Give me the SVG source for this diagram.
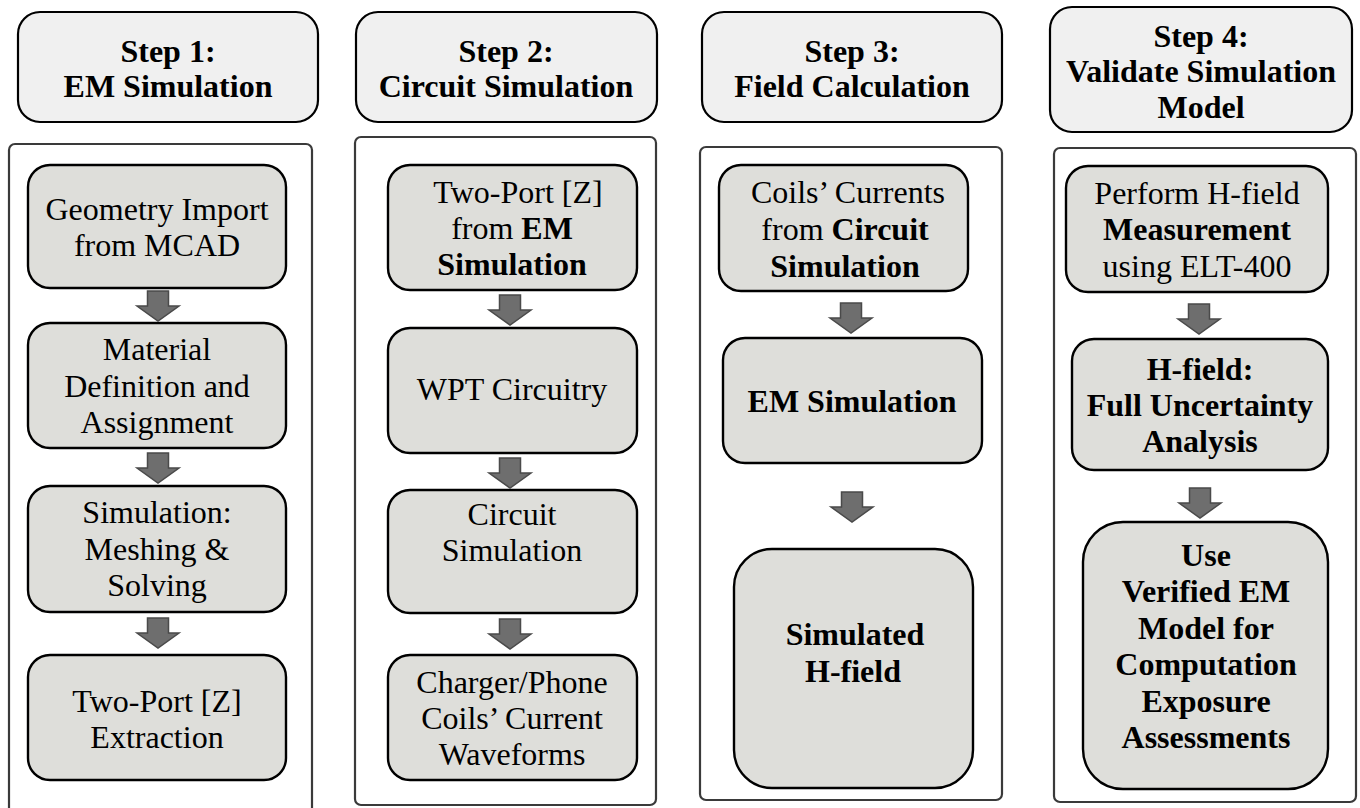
<svg xmlns="http://www.w3.org/2000/svg" width="1360" height="808" viewBox="0 0 1360 808">
<defs>
<style>
text{font-family:Liberation Serif,DejaVu Serif,serif;font-size:32px;fill:#000;text-anchor:middle}
.b{font-weight:bold}
.hdr{fill:#f0f0f0;stroke:#000;stroke-width:2.2}
.pnl{fill:#fff;stroke:#3a3a3a;stroke-width:2.2}
.nd{fill:#dededa;stroke:#000;stroke-width:2.4}
.ar{fill:#6e6e6e;stroke:#4a4a4a;stroke-width:1.5;stroke-linejoin:miter}
</style>
</defs>
<rect width="1360" height="808" fill="#fff"/>

<g id="panels">
<rect class="pnl" x="9" y="144" width="303" height="680" rx="6"/>
<rect class="pnl" x="355" y="137" width="301" height="668" rx="6"/>
<rect class="pnl" x="700" y="147" width="302" height="653" rx="6"/>
<rect class="pnl" x="1054" y="148" width="302" height="654" rx="6"/>
</g>

<g id="header1"><rect class="hdr" x="18" y="12" width="300" height="110" rx="22"/>
<text class="b" x="168" y="62">Step 1:</text><text class="b" x="168" y="97">EM Simulation</text></g>
<g id="header2"><rect class="hdr" x="356" y="12" width="301" height="110" rx="22"/>
<text class="b" x="506" y="62">Step 2:</text><text class="b" x="506" y="97">Circuit Simulation</text></g>
<g id="header3"><rect class="hdr" x="702" y="12" width="300" height="110" rx="22"/>
<text class="b" x="852" y="62">Step 3:</text><text class="b" x="852" y="97">Field Calculation</text></g>
<g id="header4"><rect class="hdr" x="1050" y="7" width="302" height="125" rx="22"/>
<text class="b" x="1201" y="47">Step 4:</text><text class="b" x="1201" y="82">Validate Simulation</text><text class="b" x="1201" y="118">Model</text></g>

<g id="c1n1"><rect class="nd" x="28" y="165" width="258" height="123" rx="22"/>
<text x="157" y="220">Geometry Import</text><text x="157" y="256">from MCAD</text></g>
<g id="c1n2"><rect class="nd" x="28" y="323" width="258" height="125" rx="22"/>
<text x="157" y="360">Material</text><text x="157" y="397">Definition and</text><text x="157" y="433">Assignment</text></g>
<g id="c1n3"><rect class="nd" x="28" y="486" width="258" height="126" rx="22"/>
<text x="157" y="523">Simulation:</text><text x="157" y="560">Meshing &amp;</text><text x="157" y="596">Solving</text></g>
<g id="c1n4"><rect class="nd" x="28" y="655" width="258" height="125" rx="22"/>
<text x="157" y="712">Two-Port [Z]</text><text x="157" y="748">Extraction</text></g>

<g id="c2n1"><rect class="nd" x="388" y="165" width="249" height="125" rx="22"/>
<text x="518" y="203">Two-Port [Z]</text><text x="512" y="239">from <tspan class="b">EM</tspan></text><text class="b" x="512" y="275">Simulation</text></g>
<g id="c2n2"><rect class="nd" x="388" y="328" width="249" height="125" rx="22"/>
<text x="512" y="400">WPT Circuitry</text></g>
<g id="c2n3"><rect class="nd" x="388" y="490" width="249" height="123" rx="22"/>
<text x="512" y="525">Circuit</text><text x="512" y="561">Simulation</text></g>
<g id="c2n4"><rect class="nd" x="388" y="655" width="249" height="125" rx="22"/>
<text x="512" y="693">Charger/Phone</text><text x="512" y="729">Coils’ Current</text><text x="512" y="765">Waveforms</text></g>

<g id="c3n1"><rect class="nd" x="719" y="165" width="249" height="126" rx="22"/>
<text x="848" y="203">Coils’ Currents</text><text x="845" y="240">from <tspan class="b">Circuit</tspan></text><text class="b" x="845" y="277">Simulation</text></g>
<g id="c3n2"><rect class="nd" x="723" y="338" width="259" height="125" rx="22"/>
<text class="b" x="852" y="412">EM Simulation</text></g>
<g id="c3n3"><rect class="nd" x="734" y="549" width="239" height="239" rx="38"/>
<text class="b" x="855" y="645">Simulated</text><text class="b" x="853" y="682">H-field</text></g>

<g id="c4n1"><rect class="nd" x="1066" y="166" width="262" height="126" rx="22"/>
<text x="1197" y="204">Perform H-field</text><text class="b" x="1197" y="240">Measurement</text><text x="1197" y="277">using ELT-400</text></g>
<g id="c4n2"><rect class="nd" x="1072" y="339" width="256" height="131" rx="22"/>
<text class="b" x="1200" y="380">H-field:</text><text class="b" x="1200" y="416">Full Uncertainty</text><text class="b" x="1200" y="452">Analysis</text></g>
<g id="c4n3"><rect class="nd" x="1083" y="522" width="245" height="267" rx="40"/>
<text class="b" x="1206" y="566">Use</text><text class="b" x="1206" y="602">Verified EM</text><text class="b" x="1206" y="639">Model for</text><text class="b" x="1206" y="675">Computation</text><text class="b" x="1206" y="712">Exposure</text><text class="b" x="1206" y="748">Assessments</text></g>

<g id="connectors">
<path class="ar" d="M147.5 291h21v15h10.5l-21 15l-21-15h10.5z"/>
<path class="ar" d="M147.5 453h21v15h10.5l-21 15l-21-15h10.5z"/>
<path class="ar" d="M147.5 618h21v15h10.5l-21 15l-21-15h10.5z"/>
<path class="ar" d="M499.5 295h21v15h10.5l-21 15l-21-15h10.5z"/>
<path class="ar" d="M499.5 458h21v15h10.5l-21 15l-21-15h10.5z"/>
<path class="ar" d="M499.5 619h21v15h10.5l-21 15l-21-15h10.5z"/>
<path class="ar" d="M840.5 303h21v15h10.5l-21 15l-21-15h10.5z"/>
<path class="ar" d="M841.5 492h21v15h10.5l-21 15l-21-15h10.5z"/>
<path class="ar" d="M1188.5 304h21v15h10.5l-21 15l-21-15h10.5z"/>
<path class="ar" d="M1189.5 488h21v15h10.5l-21 15l-21-15h10.5z"/>
</g>
</svg>
